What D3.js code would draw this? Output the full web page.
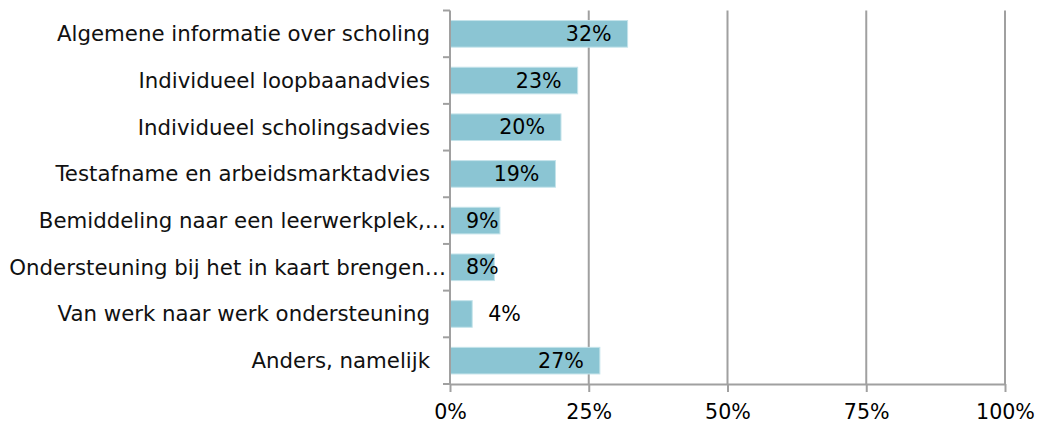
<!DOCTYPE html>
<html><head><meta charset="utf-8">
<script src="https://cdn.jsdelivr.net/npm/d3@7"></script>
<style>body{margin:0;background:#fff}svg{display:block}text{font-family:Verdana,"DejaVu Sans",sans-serif}</style>
</head><body><svg id="c" width="1042" height="423"></svg>
<script>
const categories = [
  "Algemene informatie over scholing",
  "Individueel loopbaanadvies",
  "Individueel scholingsadvies",
  "Testafname en arbeidsmarktadvies",
  "Bemiddeling naar een leerwerkplek,…",
  "Ondersteuning bij het in kaart brengen…",
  "Van werk naar werk ondersteuning",
  "Anders, namelijk"
];
const values = [0.32, 0.23, 0.20, 0.19, 0.09, 0.08, 0.04, 0.27];
const valueLabels = ["32%", "23%", "20%", "19%", "9%", "8%", "4%", "27%"];
const xTicks = [0, 0.25, 0.5, 0.75, 1];
const xTickLabels = ["0%", "25%", "50%", "75%", "100%"];

(function () {
const svg = d3.select("#c");
const mLeft = 450, mRight = 1005, mTop = 10.5, mBottom = 384;
const catFont = 21.3, numFont = 20.6;
const x = d3.scaleLinear().domain([0, 1]).range([mLeft, mRight]);
const y = d3.scaleBand().domain(categories).range([mTop, mBottom]).paddingInner(0.43).paddingOuter(0.215);
const grid = "#a0a0a0";

svg.append("g").selectAll("line").data(xTicks.slice(1)).join("line")
  .attr("x1", d => x(d)).attr("x2", d => x(d))
  .attr("y1", mTop).attr("y2", mBottom)
  .attr("stroke", grid).attr("stroke-width", 2);

svg.append("g").selectAll("rect").data(values).join("rect")
  .attr("x", x(0)).attr("y", (d, i) => y(categories[i]))
  .attr("width", d => x(d) - x(0)).attr("height", y.bandwidth())
  .attr("fill", "#8bc5d3").attr("stroke", "#c4e3ea").attr("stroke-width", 1);

const xAxis = d3.axisBottom(x).tickValues(xTicks).tickFormat((d, i) => xTickLabels[i]).tickSize(8).tickSizeOuter(0).tickPadding(12);
const gx = svg.append("g").attr("transform", `translate(0,${mBottom})`).call(xAxis);
gx.select(".domain").attr("stroke", grid).attr("stroke-width", 2);
gx.selectAll(".tick line").attr("stroke", grid).attr("stroke-width", 2);
gx.selectAll(".tick text").attr("font-size", numFont).attr("fill", "#000").attr("font-family", "Verdana, 'DejaVu Sans', sans-serif");

const step = y.step();
const boundaries = d3.range(categories.length + 1).map(i => mTop + i * step);
svg.append("line").attr("x1", mLeft).attr("x2", mLeft).attr("y1", mTop).attr("y2", mBottom)
  .attr("stroke", grid).attr("stroke-width", 2);
svg.append("g").selectAll("line").data(boundaries).join("line")
  .attr("x1", mLeft - 7).attr("x2", mLeft).attr("y1", d => d).attr("y2", d => d)
  .attr("stroke", grid).attr("stroke-width", 2);

svg.append("g").selectAll("text").data(categories).join("text")
  .attr("x", d => d.endsWith("…") ? mLeft - 4 : mLeft - 20)
  .attr("y", d => y(d) + y.bandwidth() / 2)
  .attr("dy", "0.35em").attr("text-anchor", "end")
  .attr("font-size", catFont).attr("fill", "#111")
  .text(d => d);

const vl = svg.append("g").selectAll("text").data(values).join("text")
  .attr("y", (d, i) => y(categories[i]) + y.bandwidth() / 2)
  .attr("dy", "0.35em").attr("font-size", numFont).attr("fill", "#000")
  .text((d, i) => valueLabels[i]);
vl.each(function (d) {
  const w = this.getComputedTextLength();
  const bw = x(d) - x(0);
  const t = d3.select(this);
  if (bw < w) {
    t.attr("text-anchor", "start").attr("x", x(d) + 16);
  } else {
    t.attr("text-anchor", "end").attr("x", Math.max(x(d) - 16, x(0) + 16 + w));
  }
});
})();
</script></body></html>
